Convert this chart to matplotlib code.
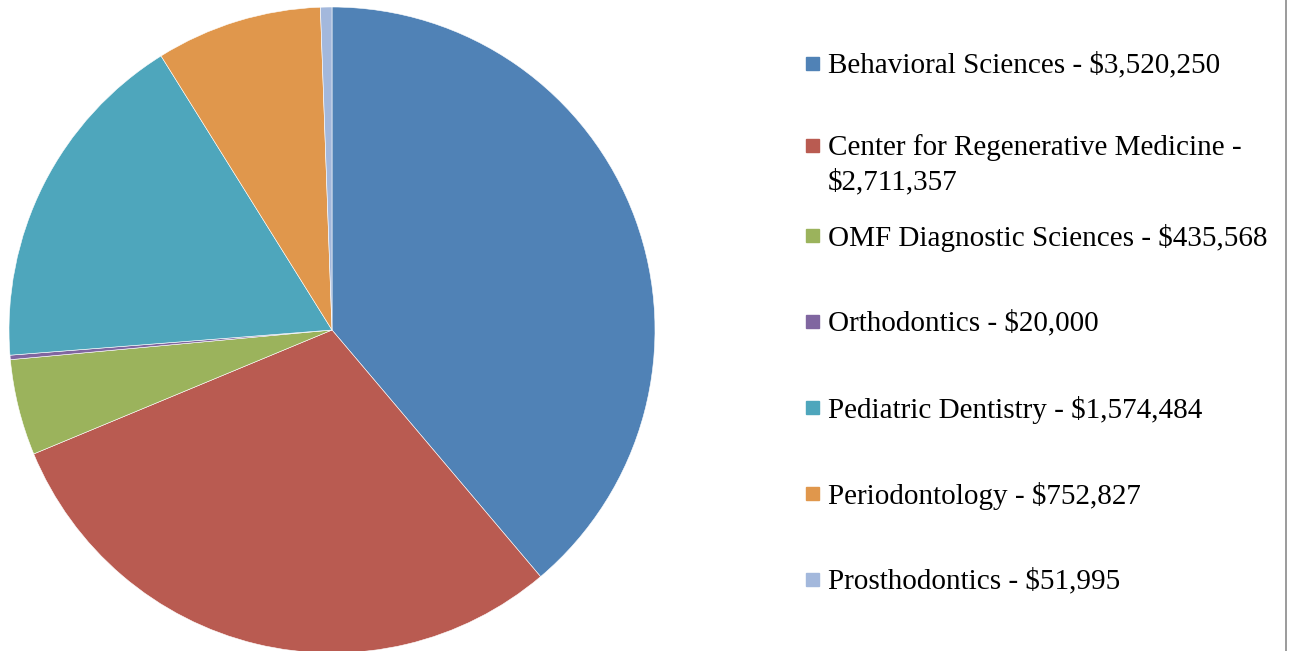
import matplotlib
matplotlib.use("Agg")
import matplotlib.pyplot as plt
from matplotlib.patches import Rectangle
from matplotlib.lines import Line2D

departments = ["Behavioral Sciences", "Center for Regenerative Medicine",
               "OMF Diagnostic Sciences", "Orthodontics", "Pediatric Dentistry",
               "Periodontology", "Prosthodontics"]
funding = [3520250, 2711357, 435568, 20000, 1574484, 752827, 51995]
colors = ["#5082B6", "#B95B51", "#9BB35C", "#8066A0", "#4EA6BC", "#E0974C", "#A3B8DC"]

labels = [f"{d} - ${v:,}" for d, v in zip(departments, funding)]
labels[1] = "Center for Regenerative Medicine -\n$2,711,357"

W, H = 1289, 651
fig = plt.figure(figsize=(W / 100, H / 100), dpi=100)

cx, cy, r = 332, 330, 323
ax = fig.add_axes([(cx - r) / W, (H - cy - r) / H, 2 * r / W, 2 * r / H])
wedges, _ = ax.pie(funding, colors=colors, startangle=90, counterclock=False,
                   radius=1, wedgeprops=dict(edgecolor="white", linewidth=0.4))
for w in wedges:
    w.set_clip_on(False)
ax.set_xlim(-1, 1)
ax.set_ylim(-1, 1)
ax.set_aspect("equal")
ax.axis("off")

# legend, drawn by hand to keep Excel-like spacing
row_y = [64, 146, 236, 322, 408, 494, 580]
for lab, col, y in zip(labels, colors, row_y):
    fig.add_artist(Rectangle((806 / W, 1 - (y + 6) / H), 13 / W, 13 / H,
                             transform=fig.transFigure, color=col))
    fig.text(828 / W, 1 - (y - 12) / H, lab, ha="left", va="top",
             fontsize=21, family="Liberation Serif", color="black",
             linespacing=1.39)

fig.add_artist(Line2D([1286 / W, 1286 / W], [0, 1], transform=fig.transFigure,
                      color="#8a8a8a", linewidth=1.2))

fig.savefig("out.png", dpi=100)
